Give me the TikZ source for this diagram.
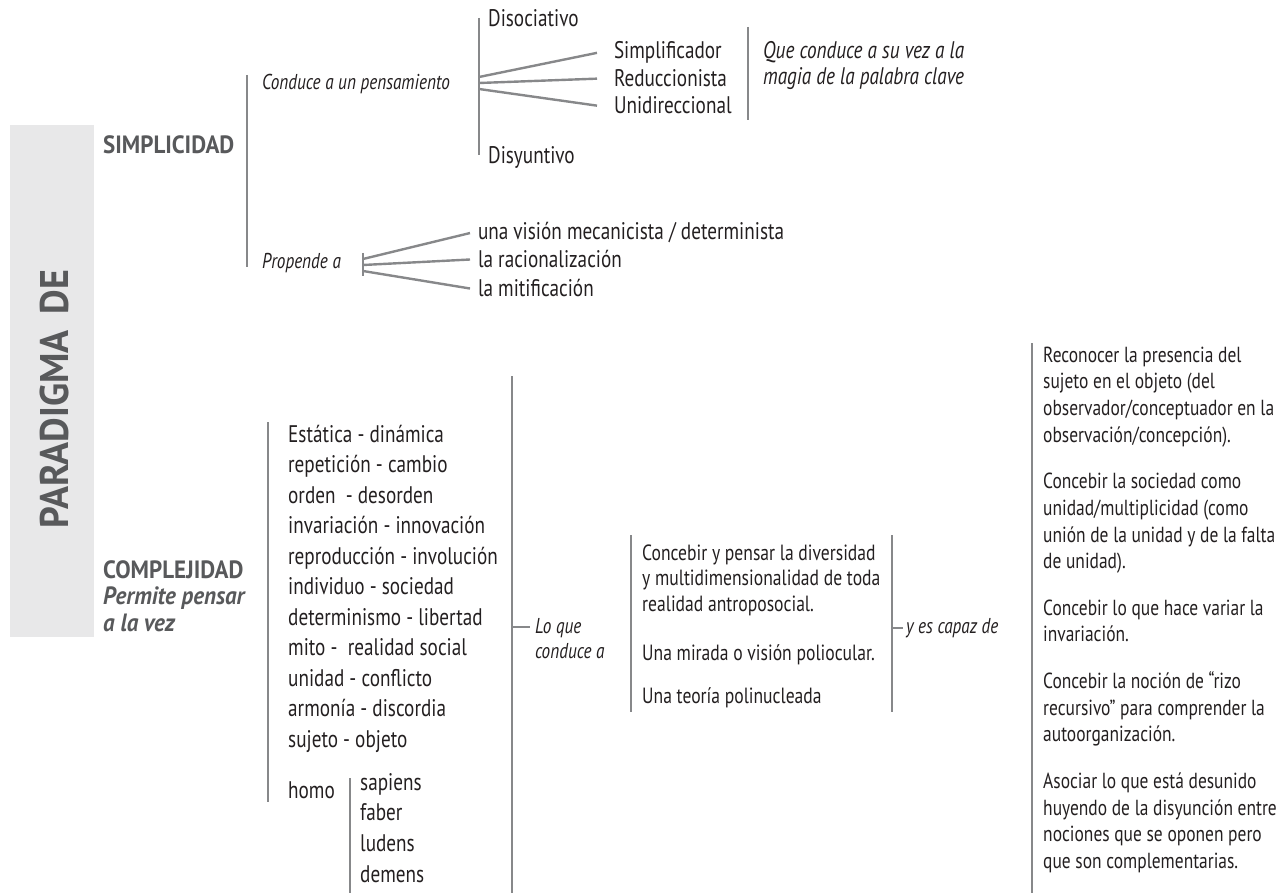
\documentclass[tikz,border=0pt]{standalone}
\usepackage{fontspec}
\setmainfont{PT Sans}[FakeStretch=0.8]
\newfontfamily\headfamily{PT Sans}[FakeStretch=0.92]
\newfontfamily\titlefamily{PT Sans}[FakeStretch=0.95]
\definecolor{ink}{HTML}{231F20}
\definecolor{headgray}{HTML}{58595B}
\definecolor{rulegray}{HTML}{87888A}
\definecolor{tabgray}{HTML}{E8E8E9}
\newcommand\leaffont{\fontsize{24pt}{27.5pt}\selectfont}
\newcommand\pairfont{\fontsize{24pt}{30.5pt}\selectfont}
\newcommand\notefont{\itshape\fontsize{21.5pt}{25pt}\selectfont}
\newcommand\magiafont{\itshape\fontsize{24pt}{26pt}\selectfont}
\newcommand\blockfont{\fontsize{22pt}{25.5pt}\selectfont}
\newcommand\sidefont{\fontsize{21.8pt}{26.7pt}\selectfont}
\newcommand\headfont{\headfamily\bfseries\fontsize{25pt}{26.5pt}\selectfont}
\newcommand\headitfont{\headfamily\bfseries\itshape\fontsize{25pt}{26.5pt}\selectfont}
\tikzset{%
  leaf/.style      = {inner sep=0pt, anchor=base west, align=left,%
                      text=ink, font=\leaffont},%
  pair/.style      = {leaf, font=\pairfont},%
  note/.style      = {leaf, font=\notefont},%
  blockleaf/.style = {leaf, font=\blockfont},%
  sideleaf/.style  = {leaf, font=\sidefont},%
  fanleaf/.style   = {leaf, outer xsep=#1},%
  fanleaf/.default = 17pt,%
  heading/.style   = {leaf, text=headgray, font=\headfont},%
  title/.style     = {inner sep=0pt, anchor=base, rotate=90, text=headgray,%
                      font=\titlefamily\bfseries\fontsize{40pt}{40pt}\selectfont},%
  sidebox/.style   = {fill=tabgray, inner sep=0pt,%
                      minimum width=84pt, minimum height=512pt},%
  brace/.style     = {draw=rulegray, line width=2.8pt},%
  twig/.style      = {draw=rulegray, line width=2.4pt}%
}

\begin{document}
\begin{tikzpicture}[x=1pt, y=-1pt]
  \useasboundingbox (0,0) rectangle (1285,893);
  % -------------- SIDE TAB --------------------------------------
  \node[sidebox] (tab) at (52,381) {};
  \node[title] (paradigma) at (68,399) {PARADIGMA\hspace{.4em}DE};
  % -------------- SIMPLICIDAD -----------------------------------
  \node[heading] (simple) at (103,154) {SIMPLICIDAD};
  \coordinate (s1) at (247,75);
  \coordinate (s2) at (247,267);
  \draw[brace] (s1) -- (s2);
  \node[note] (conduce) at (262,90) {Conduce a un pensamiento};
  \node[note] (propende) at (262,269) {Propende a};
  % pensamiento: disociativo ... disyuntivo
  \coordinate (k1) at (479,18);
  \coordinate (k2) at (479,155);
  \draw[brace] (k1) -- (k2);
  \node[leaf] (disoc) at (488,27) {Disociativo};
  \node[leaf] (disyun) at (488,164) {Disyuntivo};
  \node[fanleaf] (simplif) at (597,59) {Simplificador};
  \node[fanleaf] (reduc) at (597,87) {Reduccionista};
  \node[fanleaf] (unidir) at (597,114) {Unidireccional};
  \foreach \leafname/\y in {simplif/77, reduc/83, unidir/89}{
    \coordinate (\leafname-root) at (479,\y);
    \draw[twig] (\leafname-root) -- (\leafname.west);
  }
  \coordinate (q1) at (748,27);
  \coordinate (q2) at (748,120);
  \draw[brace] (q1) -- (q2);
  % (multi-line nodes sit on the baseline of their last line)
  \node[leaf, font=\magiafont] (magia) at (763,85) {Que conduce a su vez a la\\magia de la palabra clave};
  % propende a: three leaves
  \coordinate (p1) at (363,253);
  \coordinate (p2) at (363,276);
  \draw[brace] (p1) -- (p2);
  \node[fanleaf=8pt] (mecan) at (470,240) {una visión mecanicista / determinista};
  \node[fanleaf=8pt] (racion) at (470,268) {la racionalización};
  \node[fanleaf=8pt] (mitif) at (470,297) {la mitificación};
  \foreach \leafname/\y in {mecan/259, racion/265, mitif/271}{
    \coordinate (\leafname-root) at (363,\y);
    \draw[twig] (\leafname-root) -- (\leafname.west);
  }
  % -------------- COMPLEJIDAD -----------------------------------
  \node[heading] (complex) at (103,578) {COMPLEJIDAD};
  \node[heading, font=\headitfont] (permite) at (103,631) {Permite pensar\\a la vez};
  \coordinate (c1) at (268,422);
  \coordinate (c2) at (268,802);
  \draw[brace] (c1) -- (c2);
  \foreach \pairtext [count=\i from 0] in {Estática - dinámica, repetición - cambio,
      orden~ - desorden, invariación - innovación, reproducción - involución,
      individuo - sociedad, determinismo - libertad, mito - ~realidad social,
      unidad - conflicto, armonía - discordia, sujeto - objeto}
    \node[pair] (pair\i) at (288,{442+30.5*\i}) {\pairtext};
  \node[pair] (homo) at (288,798) {homo};
  \coordinate (h1) at (350,778);
  \coordinate (h2) at (350,893);
  \draw[brace] (h1) -- (h2);
  \foreach \kind [count=\i from 0] in {sapiens, faber, ludens, demens}
    \node[pair] (\kind) at (360,{790+30.7*\i}) {\kind};
  % lo que conduce a
  \coordinate (l1) at (512,376);
  \coordinate (l2) at (512,893);
  \draw[brace] (l1) -- (l2);
  \coordinate (l3) at (512,627);
  \node[note, outer xsep=5pt] (loque) at (530,658) {Lo que\\conduce a};
  \draw[twig] (l3) -- ([yshift=31pt]loque.base west);
  \coordinate (m1) at (631,535);
  \coordinate (m2) at (631,712);
  \draw[brace] (m1) -- (m2);
  \node[blockleaf] (diversidad) at (642,611)
    {Concebir y pensar la diversidad\\y multidimensionalidad de toda\\realidad antroposocial.};
  \node[blockleaf] (poliocular) at (642,660) {Una mirada o visión poliocular.};
  \node[blockleaf] (polinuc) at (642,703) {Una teoría polinucleada};
  % y es capaz de
  \coordinate (n1) at (892,535);
  \coordinate (n2) at (892,712);
  \draw[brace] (n1) -- (n2);
  \coordinate (n3) at (892,628);
  \node[note, outer xsep=3pt] (capaz) at (903,633) {y es capaz de};
  \draw[twig] (n3) -- ([yshift=5pt]capaz.base west);
  \coordinate (r1) at (1032,343);
  \coordinate (r2) at (1032,893);
  \draw[brace] (r1) -- (r2);
  \node[sideleaf] (reconocer) at (1043,442.1) {Reconocer la presencia del\\sujeto en el objeto (del\\observador/conceptuador en la\\observación/concepción).};
  \node[sideleaf] (sociedad) at (1043,568.7) {Concebir la sociedad como\\unidad/multiplicidad (como\\unión de la unidad y de la falta\\de unidad).};
  \node[sideleaf] (variar) at (1043,641.9) {Concebir lo que hace variar la\\invariación.};
  \node[sideleaf] (rizo) at (1043,741.8) {Concebir la noción de “rizo\\recursivo” para comprender la\\autoorganización.};
  \node[sideleaf] (asociar) at (1043,868.4) {Asociar lo que está desunido\\huyendo de la disyunción entre\\nociones que se oponen pero\\que son complementarias.};
\end{tikzpicture}
\end{document}
